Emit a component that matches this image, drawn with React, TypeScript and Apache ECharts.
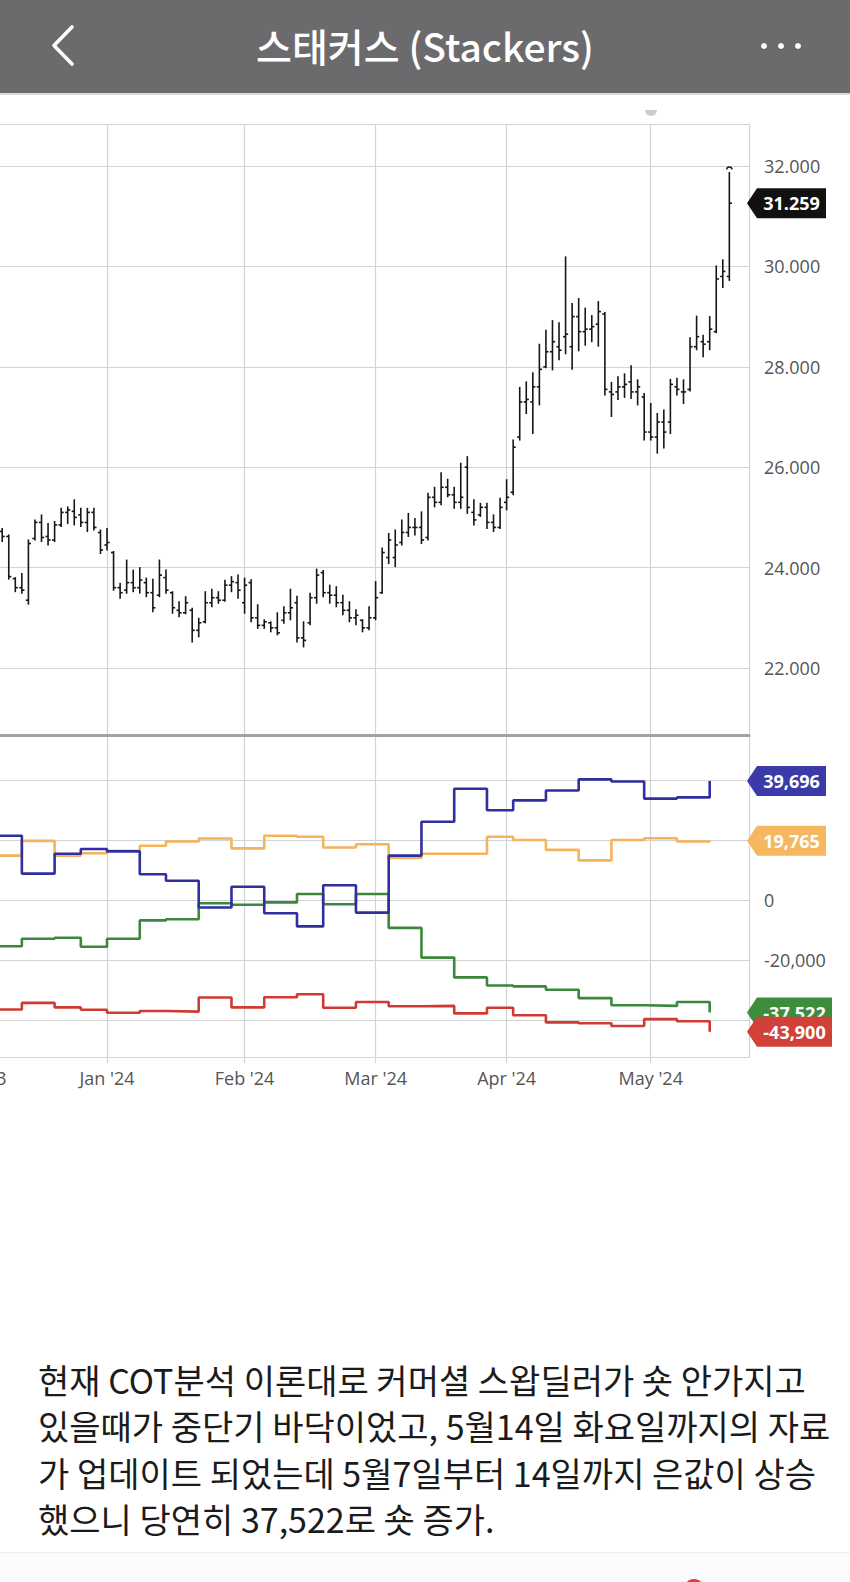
import React, { useEffect, useRef } from 'react';
import * as echarts from 'echarts';

// ---------------- data ----------------
const title = '스태커스 (Stackers)';

const tradingDays: string[] = [
  '2023-12-01','2023-12-04','2023-12-05','2023-12-06','2023-12-07','2023-12-08','2023-12-11','2023-12-12','2023-12-13','2023-12-14',
  '2023-12-15','2023-12-18','2023-12-19','2023-12-20','2023-12-21','2023-12-22','2023-12-26','2023-12-27','2023-12-28','2023-12-29',
  '2024-01-02','2024-01-03','2024-01-04','2024-01-05','2024-01-08','2024-01-09','2024-01-10','2024-01-11','2024-01-12','2024-01-16',
  '2024-01-17','2024-01-18','2024-01-19','2024-01-22','2024-01-23','2024-01-24','2024-01-25','2024-01-26','2024-01-29','2024-01-30','2024-01-31',
  '2024-02-01','2024-02-02','2024-02-05','2024-02-06','2024-02-07','2024-02-08','2024-02-09','2024-02-12','2024-02-13','2024-02-14',
  '2024-02-15','2024-02-16','2024-02-20','2024-02-21','2024-02-22','2024-02-23','2024-02-26','2024-02-27','2024-02-28','2024-02-29',
  '2024-03-01','2024-03-04','2024-03-05','2024-03-06','2024-03-07','2024-03-08','2024-03-11','2024-03-12','2024-03-13','2024-03-14',
  '2024-03-15','2024-03-18','2024-03-19','2024-03-20','2024-03-21','2024-03-22','2024-03-25','2024-03-26','2024-03-27','2024-03-28',
  '2024-04-01','2024-04-02','2024-04-03','2024-04-04','2024-04-05','2024-04-08','2024-04-09','2024-04-10','2024-04-11','2024-04-12',
  '2024-04-15','2024-04-16','2024-04-17','2024-04-18','2024-04-19','2024-04-22','2024-04-23','2024-04-24','2024-04-25','2024-04-26',
  '2024-04-29','2024-04-30',
  '2024-05-01','2024-05-02','2024-05-03','2024-05-06','2024-05-07','2024-05-08','2024-05-09','2024-05-10','2024-05-13','2024-05-14',
  '2024-05-15','2024-05-16','2024-05-17','2024-05-20','2024-05-21','2024-05-22',
];

const priceStart = '2023-12-07';
const opens: number[] = [
  24.72,24.62,23.78,23.60,23.35,24.58,24.90,24.62,24.55,24.85,25.10,25.12,25.05,24.90,25.10,24.70,
  24.45,24.30,23.60,23.55,23.70,23.60,23.70,23.50,23.45,23.80,23.50,23.15,23.10,23.15,22.75,22.92,23.30,23.40,23.35,23.65,23.70,
  23.30,23.70,23.00,22.85,22.90,22.80,22.95,23.10,23.30,22.60,22.90,23.40,23.90,23.50,23.45,23.30,23.15,23.00,22.95,22.80,
  23.00,23.50,24.20,24.20,24.50,24.70,24.80,24.80,24.60,25.40,25.30,25.60,25.45,25.30,26.00,25.10,25.05,25.20,24.90,24.80,
  25.30,25.50,26.60,27.30,27.30,27.60,28.00,28.30,28.40,28.60,28.40,29.00,28.70,28.75,28.85,29.05,27.50,27.50,27.60,27.70,27.50,27.40,
  26.70,26.60,26.90,26.90,27.60,27.50,27.55,28.40,28.50,28.50,28.70,29.80,29.80,
];
const highs: number[] = [
  24.78,24.65,23.80,23.88,24.55,24.95,25.05,24.88,24.92,25.18,25.21,25.35,25.18,25.18,25.18,24.75,
  24.78,24.32,23.69,24.15,23.95,24.00,23.79,23.77,24.15,23.95,23.52,23.32,23.42,23.19,22.99,23.52,23.57,23.52,23.75,23.82,23.85,
  23.79,23.76,23.26,22.96,22.92,23.10,23.22,23.57,23.43,22.92,23.49,23.97,23.94,23.65,23.62,23.45,23.32,23.16,22.96,23.22,
  23.72,24.39,24.68,24.75,24.95,25.08,24.98,25.11,25.48,25.60,25.89,25.76,25.60,26.08,26.21,25.35,25.28,25.28,25.05,25.38,
  25.75,26.54,27.59,27.70,27.88,28.45,28.73,28.92,28.88,30.19,29.26,29.36,29.17,29.02,29.30,29.08,27.69,27.80,27.86,28.02,27.74,27.47,
  27.27,27.07,27.14,27.75,27.77,27.74,28.58,29.01,28.63,29.00,30.01,30.13,31.87,
];
const lows: number[] = [
  24.52,23.77,23.52,23.49,23.27,24.55,24.52,24.45,24.52,24.82,24.88,24.85,24.82,24.72,24.75,24.28,
  24.35,23.55,23.39,23.49,23.52,23.49,23.42,23.12,23.42,23.49,23.09,23.02,23.08,22.52,22.62,22.90,23.22,23.29,23.33,23.52,23.39,
  23.09,22.92,22.79,22.79,22.72,22.66,22.89,22.96,22.52,22.42,22.86,23.29,23.42,23.29,23.22,23.06,22.92,22.86,22.72,22.76,
  22.96,23.49,24.08,24.02,24.45,24.62,24.65,24.48,24.55,25.21,25.25,25.41,25.18,25.18,25.08,24.85,25.02,24.78,24.72,24.78,
  25.15,25.45,26.54,27.07,26.67,27.24,27.98,27.94,28.14,28.26,27.95,28.32,28.43,28.50,28.41,27.44,27.01,27.35,27.39,27.37,27.24,26.54,
  26.54,26.28,26.38,26.67,27.44,27.27,27.52,28.34,28.20,28.34,28.68,29.58,29.72,
];
const closes: number[] = [
  24.62,23.82,23.60,23.55,24.48,24.90,24.60,24.55,24.85,25.10,25.15,25.00,24.90,25.10,24.80,24.35,
  24.50,23.60,23.50,23.70,23.60,23.75,23.50,23.20,23.85,23.55,23.20,23.10,23.30,22.75,22.90,23.30,23.40,23.35,23.65,23.72,23.55,
  23.65,23.00,22.85,22.92,22.80,22.70,23.10,23.20,22.60,22.55,23.40,23.85,23.50,23.45,23.30,23.15,23.00,23.05,22.80,23.00,
  23.40,24.30,24.55,24.45,24.70,24.80,24.80,24.55,25.40,25.30,25.60,25.45,25.30,25.40,25.20,24.95,25.20,24.90,24.80,25.20,
  25.40,26.40,27.30,27.35,27.60,27.95,28.30,28.50,28.33,28.65,29.00,28.70,28.75,28.80,29.10,27.55,27.45,27.60,27.65,27.50,27.60,26.70,
  26.60,26.90,26.70,27.65,27.55,27.50,28.40,28.60,28.45,28.75,29.75,29.90,31.259,
];

// Weekly COT positions (as of Tuesday)
const cotDates: string[] = [
  '2023-12-05','2023-12-12','2023-12-19','2023-12-26','2024-01-02','2024-01-09','2024-01-16','2024-01-23',
  '2024-01-30','2024-02-06','2024-02-13','2024-02-20','2024-02-27','2024-03-05','2024-03-12','2024-03-19',
  '2024-03-26','2024-04-02','2024-04-09','2024-04-16','2024-04-23','2024-04-30','2024-05-07','2024-05-14',
];
const cotBlue: number[] = [21400,8800,15400,17000,16200,8600,6400,-2500,4400,-4400,-8800,4900,-4200,14800,26100,37100,29900,33200,36500,40200,39500,33800,34200,39696];
const cotOrange: number[] = [14800,19700,14800,15600,16400,18100,19500,20500,17200,21400,21100,17500,18600,14000,15400,15400,21100,20000,16700,13200,20000,20600,19500,19765];
const cotGreen: number[] = [-15400,-12900,-12600,-15600,-12900,-6800,-6400,-1100,-1600,-800,2000,-1400,2000,-9300,-19200,-25800,-28500,-28800,-29900,-32700,-35100,-35300,-34000,-37522];
const cotRed: number[] = [-36500,-34300,-35800,-36600,-37600,-37000,-37200,-32500,-35800,-32400,-31400,-35900,-34000,-35400,-35300,-37800,-35900,-38400,-40800,-41100,-42000,-39700,-40400,-43900];

const noteLines: string[] = [
  '현재 COT분석 이론대로 커머셜 스왑딜러가 숏 안가지고',
  '있을때가 중단기 바닥이었고, 5월14일 화요일까지의 자료',
  '가 업데이트 되었는데 5월7일부터 14일까지 은값이 상승',
  '했으니 당연히 37,522로 숏 증가.',
];

const MONTHS = ['Jan','Feb','Mar','Apr','May','Jun','Jul','Aug','Sep','Oct','Nov','Dec'];

// ---------------- helpers ----------------
const COLORS = {
  blue: '#2f2f9e', blueBadge: '#3a3aa8',
  orange: '#f4b35c', orangeBadge: '#f5b75f',
  green: '#3b873b', greenBadge: '#3e8c3e',
  red: '#cf3a33', redBadge: '#d2403a',
  grid: '#d3d3d3', label: '#555555',
};

const isMonthStart = (index: number, value: string) =>
  index === 0 || value.slice(0, 7) !== tradingDays[index - 1].slice(0, 7);

const monthLabel = (value: string) => `${MONTHS[Number(value.slice(5, 7)) - 1]} '${value.slice(2, 4)}`;

const startIdx = tradingDays.indexOf(priceStart);
const ohlcData = opens.map((o, i) => [startIdx + i, o, highs[i], lows[i], closes[i]]);
const cotSeries = (vals: number[]) => cotDates.map((d, i) => [tradingDays.indexOf(d), vals[i]]);

const lastVals = [cotBlue, cotOrange, cotGreen, cotRed].map((a) => a[a.length - 1]);

function renderOHLC(params: any, api: any) {
  const idx = api.value(0);
  const o = api.coord([idx, api.value(1)]);
  const h = api.coord([idx, api.value(2)]);
  const l = api.coord([idx, api.value(3)]);
  const c = api.coord([idx, api.value(4)]);
  const t = 2.6;
  const st = { stroke: '#161616', lineWidth: 1.6 };
  return {
    type: 'group',
    children: [
      { type: 'line', shape: { x1: h[0], y1: h[1] - 0.5, x2: l[0], y2: l[1] + 0.5 }, style: st },
      { type: 'line', shape: { x1: o[0] - t, y1: o[1], x2: o[0], y2: o[1] }, style: st },
      { type: 'line', shape: { x1: c[0], y1: c[1], x2: c[0] + t, y2: c[1] }, style: st },
    ],
  };
}

function buildOption() {
  const gridLeft = -24;
  const gridRight = 101;
  const labelFont = { color: COLORS.label, fontSize: 18, fontFamily: 'Open Sans' };
  return {
    animation: false,
    backgroundColor: '#ffffff',
    grid: [
      { left: gridLeft, right: gridRight, top: 124, height: 611, containLabel: false, outerBoundsMode: 'none' },
      { left: gridLeft, right: gridRight, top: 735, height: 322, containLabel: false, outerBoundsMode: 'none' },
    ],
    xAxis: [
      {
        type: 'category', gridIndex: 0, data: tradingDays, boundaryGap: false,
        axisLine: { show: true, onZero: false, lineStyle: { color: '#a2a2a2', width: 3 } },
        axisTick: { show: false }, axisLabel: { show: false },
        splitLine: { show: true, interval: isMonthStart, lineStyle: { color: COLORS.grid, width: 1.2 } },
      },
      {
        type: 'category', gridIndex: 1, data: tradingDays, boundaryGap: false,
        axisLine: { show: true, onZero: false, lineStyle: { color: COLORS.grid, width: 1.2 } },
        axisTick: { show: true, interval: isMonthStart, length: 6, lineStyle: { color: COLORS.grid, width: 1.2 } },
        axisLabel: { interval: isMonthStart, formatter: monthLabel, margin: 12, hideOverlap: false, ...labelFont },
        splitLine: { show: true, interval: isMonthStart, lineStyle: { color: COLORS.grid, width: 1.2 } },
      },
    ],
    yAxis: [
      {
        type: 'value', gridIndex: 0, position: 'right', min: 20.665, max: 32.837, splitNumber: 5, scale: true,
        axisLine: { show: true, lineStyle: { color: COLORS.grid, width: 1.2 } },
        axisTick: { show: false },
        axisLabel: { showMinLabel: false, showMaxLabel: false, margin: 15, formatter: (v: number) => v.toFixed(3), ...labelFont },
        splitLine: { show: true, lineStyle: { color: COLORS.grid, width: 1.2 } },
      },
      {
        type: 'value', gridIndex: 1, position: 'right', min: -52333, max: 55000, splitNumber: 5,
        axisLine: { show: true, lineStyle: { color: COLORS.grid, width: 1.2 } },
        axisTick: { show: false },
        axisLabel: {
          showMinLabel: false, showMaxLabel: false, margin: 15,
          formatter: (v: number) => (lastVals.some((b) => Math.abs(b - v) < 9000) ? '' : v.toLocaleString('en-US')),
          ...labelFont,
        },
        splitLine: { show: true, lineStyle: { color: COLORS.grid, width: 1.2 } },
      },
    ],
    series: [
      {
        type: 'custom', name: 'Silver', xAxisIndex: 0, yAxisIndex: 0, clip: true,
        renderItem: renderOHLC, encode: { x: 0, y: [1, 2, 3, 4] }, data: ohlcData,
      },
      { type: 'line', name: 'orange', xAxisIndex: 1, yAxisIndex: 1, step: 'end', symbol: 'none', data: cotSeries(cotOrange), lineStyle: { color: COLORS.orange, width: 2.6 }, itemStyle: { color: COLORS.orange } },
      { type: 'line', name: 'green', xAxisIndex: 1, yAxisIndex: 1, step: 'end', symbol: 'none', data: cotSeries(cotGreen), lineStyle: { color: COLORS.green, width: 2.6 }, itemStyle: { color: COLORS.green } },
      { type: 'line', name: 'red', xAxisIndex: 1, yAxisIndex: 1, step: 'end', symbol: 'none', data: cotSeries(cotRed), lineStyle: { color: COLORS.red, width: 2.6 }, itemStyle: { color: COLORS.red } },
      { type: 'line', name: 'blue', xAxisIndex: 1, yAxisIndex: 1, step: 'end', symbol: 'none', data: cotSeries(cotBlue), lineStyle: { color: COLORS.blue, width: 2.6 }, itemStyle: { color: COLORS.blue } },
    ],
  };
}

function badge(tipX: number, cy: number, w: number, fill: string, text: string, z: number) {
  const h = 30;
  return [
    {
      type: 'polygon', z, silent: true,
      shape: { points: [[tipX, cy], [tipX + 10, cy - h / 2], [tipX + w, cy - h / 2], [tipX + w, cy + h / 2], [tipX + 10, cy + h / 2]] },
      style: { fill },
    },
    {
      type: 'text', z: z + 1, silent: true, x: tipX + 10 + (w - 10) / 2, y: cy,
      style: { text, fill: '#ffffff', font: 'bold 18px "Open Sans"', textAlign: 'center', textVerticalAlign: 'middle' },
    },
  ];
}

function buildGraphics(chart: any) {
  const lastDay = tradingDays[tradingDays.length - 1];
  const rightX = chart.convertToPixel({ xAxisIndex: 0 }, lastDay) - 2;
  const py = (v: number) => chart.convertToPixel({ yAxisIndex: 0 }, v);
  const cy = (v: number) => chart.convertToPixel({ yAxisIndex: 1 }, v);
  const lastClose = closes[closes.length - 1];
  const lastHigh = highs[highs.length - 1];
  const lastBar = chart.convertToPixel({ gridIndex: 0 }, [startIdx + closes.length - 1, lastHigh]);

  const els: any[] = [
    // header
    { type: 'rect', shape: { x: 0, y: 0, width: 850, height: 93 }, style: { fill: '#6b6b6d' }, z: 50 },
    { type: 'rect', shape: { x: 0, y: 93, width: 850, height: 2 }, style: { fill: '#d9d9d9' }, z: 50 },
    {
      type: 'text', x: 425, y: 45, z: 51,
      style: { text: title, fill: '#ffffff', font: '500 39px "Noto Sans CJK KR"', textAlign: 'center', textVerticalAlign: 'middle' },
    },
    { type: 'polyline', z: 51, shape: { points: [[72, 27], [54, 45.5], [72, 64]] }, style: { stroke: '#ffffff', lineWidth: 3.6, lineCap: 'round', lineJoin: 'round', fill: 'none' } },
    { type: 'circle', z: 51, shape: { cx: 764, cy: 46, r: 3 }, style: { fill: '#ffffff' } },
    { type: 'circle', z: 51, shape: { cx: 781, cy: 46, r: 3 }, style: { fill: '#ffffff' } },
    { type: 'circle', z: 51, shape: { cx: 798, cy: 46, r: 3 }, style: { fill: '#ffffff' } },
    // small tab indicator
    { type: 'sector', z: 51, shape: { cx: 651, cy: 110, r0: 0, r: 6, startAngle: 0, endAngle: Math.PI, clockwise: true }, style: { fill: '#cccccc' } },
    // high marker on last bar
    { type: 'arc', z: 60, shape: { cx: lastBar[0], cy: lastBar[1] - 3, r: 2.6, startAngle: Math.PI, endAngle: Math.PI * 2, clockwise: true }, style: { stroke: '#161616', lineWidth: 1.4, fill: 'none' } },
    // price badge
    ...badge(rightX, py(lastClose), 79, '#111111', lastClose.toFixed(3), 100),
    // COT badges
    ...badge(rightX, cy(cotBlue[cotBlue.length - 1]), 79, COLORS.blueBadge, cotBlue[cotBlue.length - 1].toLocaleString('en-US'), 100),
    ...badge(rightX, cy(cotOrange[cotOrange.length - 1]), 79, COLORS.orangeBadge, cotOrange[cotOrange.length - 1].toLocaleString('en-US'), 100),
    ...badge(rightX, cy(cotGreen[cotGreen.length - 1]), 85, COLORS.greenBadge, cotGreen[cotGreen.length - 1].toLocaleString('en-US'), 100),
    ...badge(rightX, cy(cotRed[cotRed.length - 1]), 85, COLORS.redBadge, cotRed[cotRed.length - 1].toLocaleString('en-US'), 110),
    // bottom strip
    { type: 'rect', z: 50, shape: { x: 0, y: 1553, width: 850, height: 29 }, style: { fill: '#fbfbfb' } },
    { type: 'rect', z: 50, shape: { x: 0, y: 1552, width: 850, height: 1 }, style: { fill: '#ececec' } },
    { type: 'circle', z: 51, shape: { cx: 694, cy: 1589, r: 10 }, style: { fill: '#e23b3b' } },
  ];
  noteLines.forEach((line, i) => {
    els.push({
      type: 'text', x: 38, y: 1379 + i * 46.5, z: 51,
      style: { text: line, fill: '#1b1b1b', font: '400 34px "Noto Sans CJK KR"', textAlign: 'left', textVerticalAlign: 'middle' },
    });
  });
  return els;
}

export default function App() {
  const ref = useRef<HTMLDivElement>(null);
  useEffect(() => {
    document.body.style.margin = '0';
    const chart = echarts.init(ref.current as HTMLDivElement, null, { renderer: 'svg' });
    chart.setOption(buildOption() as any);
    chart.setOption({ graphic: buildGraphics(chart) } as any);
    return () => chart.dispose();
  }, []);
  return <div ref={ref} style={{ width: 850, height: 1582 }} />;
}
